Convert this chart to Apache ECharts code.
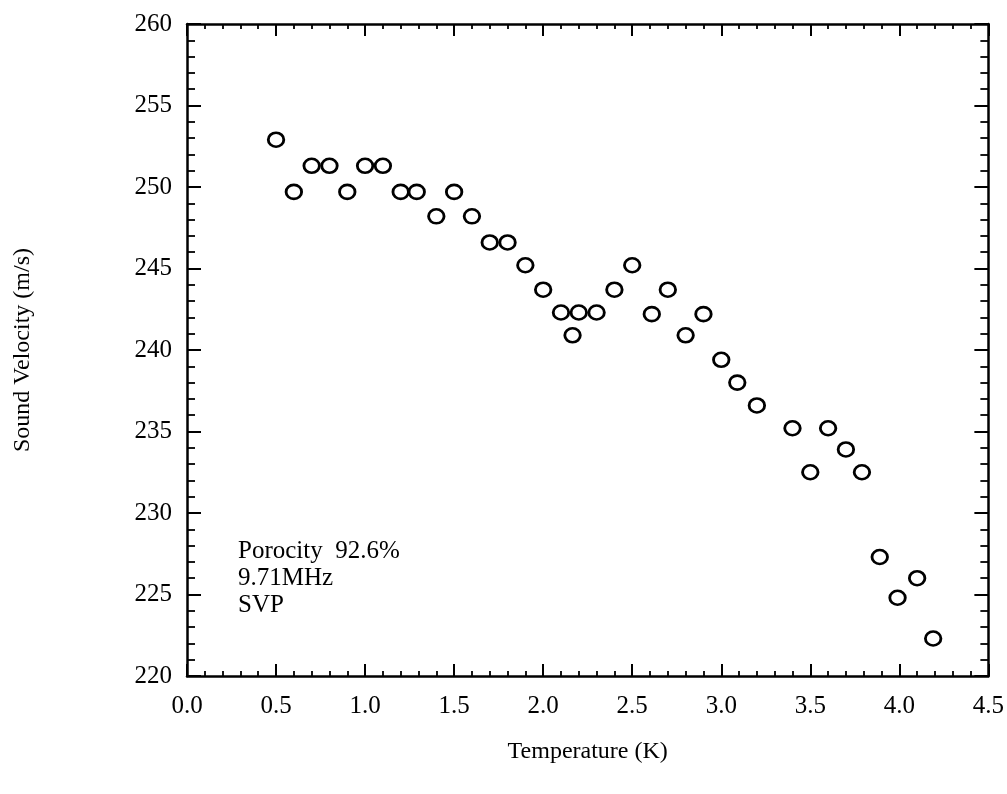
<!DOCTYPE html>
<html>
<head>
<meta charset="utf-8">
<script src="https://cdn.jsdelivr.net/npm/echarts@6/dist/echarts.min.js"></script>
<style>html,body{margin:0;padding:0;background:#fff}#c{width:1007px;height:794px}</style>
</head>
<body>
<div id="c"></div>
<script>
const temperature = [0.50,0.60,0.70,0.80,0.90,1.00,1.10,1.20,1.29,1.40,1.50,1.60,1.70,1.80,1.90,2.00,2.10,2.165,2.20,2.30,2.40,2.50,2.61,2.70,2.80,2.90,3.00,3.09,3.20,3.40,3.50,3.60,3.70,3.79,3.89,3.99,4.10,4.19];
const velocity = [252.9,249.7,251.3,251.3,249.7,251.3,251.3,249.7,249.7,248.2,249.7,248.2,246.6,246.6,245.2,243.7,242.3,240.9,242.3,242.3,243.7,245.2,242.2,243.7,240.9,242.2,239.4,238.0,236.6,235.2,232.5,235.2,233.9,232.5,227.3,224.8,226.0,222.3];
const annotationLines = ['Porocity  92.6%', '9.71MHz', 'SVP'];
const xTitle = 'Temperature (K)';
const yTitle = 'Sound Velocity (m/s)';

const FONT = '"Liberation Serif", "DejaVu Serif", serif';
const chart = echarts.init(document.getElementById('c'));
const axisLine = {show: true, onZero: false, lineStyle: {color: '#000', width: 2.5}};
function xAx(pos, labels) {
  return {
    type: 'value', position: pos, min: 0, max: 4.5, interval: 0.5,
    axisLine: axisLine,
    axisTick: {show: true, inside: true, length: 12, lineStyle: {color: '#000', width: 2}},
    minorTick: {show: true, splitNumber: 5, length: 5, lineStyle: {color: '#000', width: 1.8}},
    splitLine: {show: false}, minorSplitLine: {show: false},
    axisLabel: {show: labels, color: '#000', fontFamily: FONT, fontSize: 25, margin: 18,
      formatter: v => v.toFixed(1)},
    name: labels ? xTitle : '', nameLocation: 'middle', nameGap: 64,
    nameTextStyle: {color: '#000', fontFamily: FONT, fontSize: 24}
  };
}
function yAx(pos, labels) {
  return {
    type: 'value', position: pos, min: 220, max: 260, interval: 5,
    axisLine: axisLine,
    axisTick: {show: true, inside: true, length: 14, lineStyle: {color: '#000', width: 2}},
    minorTick: {show: true, splitNumber: 5, length: 8, lineStyle: {color: '#000', width: 1.8}},
    splitLine: {show: false}, minorSplitLine: {show: false},
    axisLabel: {show: labels, color: '#000', fontFamily: FONT, fontSize: 25, margin: 15},
    name: labels ? yTitle : '', nameLocation: 'middle', nameGap: 152, nameRotate: 90,
    nameTextStyle: {color: '#000', fontFamily: FONT, fontSize: 24}
  };
}
chart.setOption({
  backgroundColor: '#fff',
  animation: false,
  grid: {left: 187, right: 17, top: 24, bottom: 118},
  xAxis: [xAx('bottom', true), xAx('top', false)],
  yAxis: [yAx('left', true), yAx('right', false)],
  graphic: [{
    type: 'text', left: 238, top: 538,
    style: {text: annotationLines.join('\n'), font: '25px ' + FONT, fill: '#000', lineHeight: 27}
  }],
  series: [{
    type: 'scatter',
    data: temperature.map((t, i) => [t, velocity[i]]),
    symbol: 'circle', symbolSize: [15.5, 14],
    itemStyle: {color: 'rgba(255,255,255,0)', borderColor: '#000', borderWidth: 2.7, opacity: 1}
  }]
});
</script>
</body>
</html>
